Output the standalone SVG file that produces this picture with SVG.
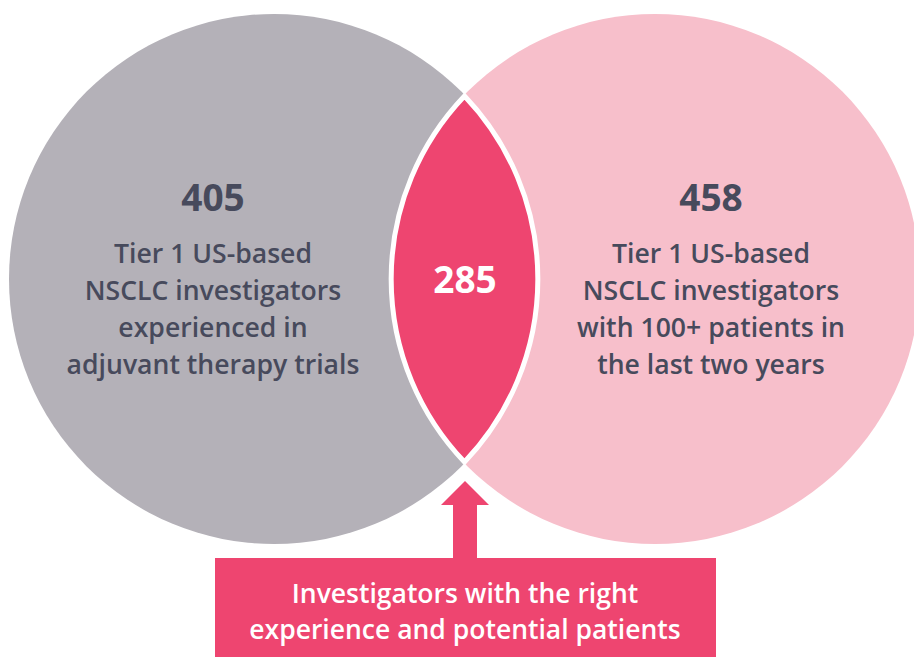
<svg xmlns="http://www.w3.org/2000/svg" width="914" height="657" viewBox="0 0 914 657">
<style>
  .num{font-family:"Open Sans","Liberation Sans",sans-serif;font-weight:700;font-size:37px;text-anchor:middle;fill:#474a5c}
  .body{font-family:"Open Sans","Liberation Sans",sans-serif;font-weight:600;font-size:26.6px;text-anchor:middle;fill:#474a5c}
  .white{fill:#ffffff}
  .box{font-family:"Open Sans","Liberation Sans",sans-serif;font-weight:600;font-size:26.5px;text-anchor:middle;fill:#ffffff}
</style>
<rect width="914" height="657" fill="#ffffff"/>
<g id="left-set">
  <circle cx="274" cy="279" r="265" fill="#b4b1b8"/>
  <text class="num" x="213" y="211">405</text>
  <text class="body" x="213" y="263">Tier 1 US-based</text>
  <text class="body" x="213" y="300">NSCLC investigators</text>
  <text class="body" x="213" y="337">experienced in</text>
  <text class="body" x="213" y="374">adjuvant therapy trials</text>
</g>
<g id="right-set">
  <circle cx="655" cy="279" r="265" fill="#f7bfcb"/>
  <text class="num" x="711" y="211">458</text>
  <text class="body" x="711" y="263">Tier 1 US-based</text>
  <text class="body" x="711" y="300">NSCLC investigators</text>
  <text class="body" x="711" y="337">with 100+ patients in</text>
  <text class="body" x="711" y="374">the last two years</text>
</g>
<g id="intersection">
  <path d="M464.5 96 A265 265 0 0 1 464.5 462 A265 265 0 0 1 464.5 96 Z" fill="#ee4570" stroke="#ffffff" stroke-width="5" stroke-linejoin="miter"/>
  <text class="num white" x="465" y="293">285</text>
</g>
<g id="connectors">
  <path d="M465 481 L489 505 L477 505 L477 560 L453 560 L453 505 L441 505 Z" fill="#ee4570"/>
</g>
<g id="callout">
  <rect x="215" y="558" width="501" height="99" fill="#ee4570"/>
  <text class="box" x="465" y="603">Investigators with the right</text>
  <text class="box" x="465" y="639">experience and potential patients</text>
</g>
</svg>
